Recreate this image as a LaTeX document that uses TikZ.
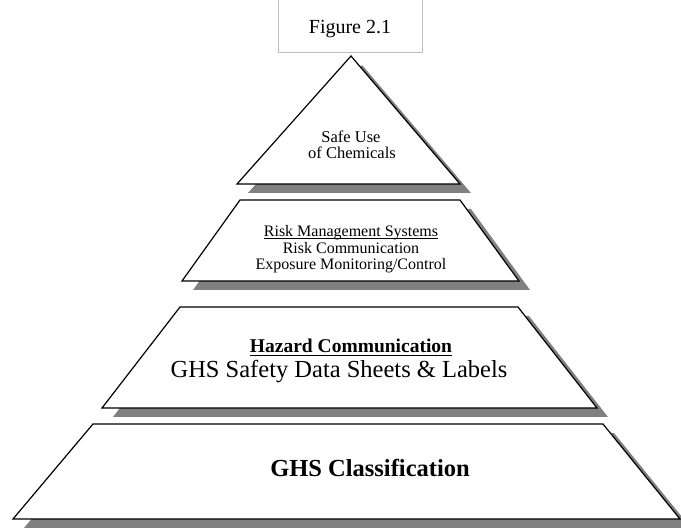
\documentclass[tikz,border=0pt]{standalone}
\usepackage{fontspec}
\setmainfont{Liberation Serif}
\begin{document}
\begin{tikzpicture}[x=1pt,y=-1pt,
  tier/.style={draw=black,fill=white,line width=1.2pt,line join=miter},
  tiershadow/.style={fill=black!50,draw=none},
  caption/.style={anchor=base,inner sep=0pt,font=\fontsize{#1}{#1}\selectfont},
  captionbf/.style={anchor=base,inner sep=0pt,font=\fontsize{#1}{#1}\selectfont\bfseries},
  underrule/.style={draw=black,line width=#1}]
\useasboundingbox (0,0) rectangle (681,529);
\fill[white] (0,0) rectangle (681,529);

% figure label box
\draw[draw=black!25,line width=0.8pt] (278,-5) rectangle (422,52);
\node[caption=20] (figlabel) at (350,34) {Figure 2.1};

% pyramid tiers: shadows first, then the tiers
\begin{scope}[shift={(11,9)}]
  \fill[tiershadow] (351,56) -- (460,184) -- (237,184) -- cycle;
  \fill[tiershadow] (240,200) -- (460,200) -- (519,281) -- (182,281) -- cycle;
  \fill[tiershadow] (180,307) -- (518,307) -- (597,408) -- (102,408) -- cycle;
  \fill[tiershadow] (93,424) -- (603,424) -- (680,519) -- (13,519) -- cycle;
\end{scope}
\draw[tier] (351,56) -- (460,184) -- (237,184) -- cycle;
\draw[tier] (240,200) -- (460,200) -- (519,281) -- (182,281) -- cycle;
\draw[tier] (180,307) -- (518,307) -- (597,408) -- (102,408) -- cycle;
\draw[tier] (93,424) -- (603,424) -- (680,519) -- (13,519) -- cycle;

% tier texts
\node[caption=16.5] (safeuse) at (351,143) {Safe Use};
\node[caption=16.5] (chemicals) at (352,159) {of Chemicals};

\node[caption=16] (riskmgmt) at (351,237) {Risk Management Systems};
\draw[underrule=0.8pt] ([yshift=-1.6pt]riskmgmt.base west) -- ([yshift=-1.6pt]riskmgmt.base east);
\node[caption=16] (riskcomm) at (351,254) {Risk Communication};
\node[caption=16] (exposure) at (351,270) {Exposure Monitoring/Control};

\node[captionbf=19.5] (hazcom) at (351,353) {Hazard Communication};
\draw[underrule=1.2pt] ([yshift=-2.2pt]hazcom.base west) -- ([yshift=-2.2pt]hazcom.base east);
\node[caption=24.5] (sds) at (339,378) {GHS Safety Data Sheets \& Labels};

\node[captionbf=24.5] (ghsclass) at (370,477) {GHS Classification};
\end{tikzpicture}
\end{document}
